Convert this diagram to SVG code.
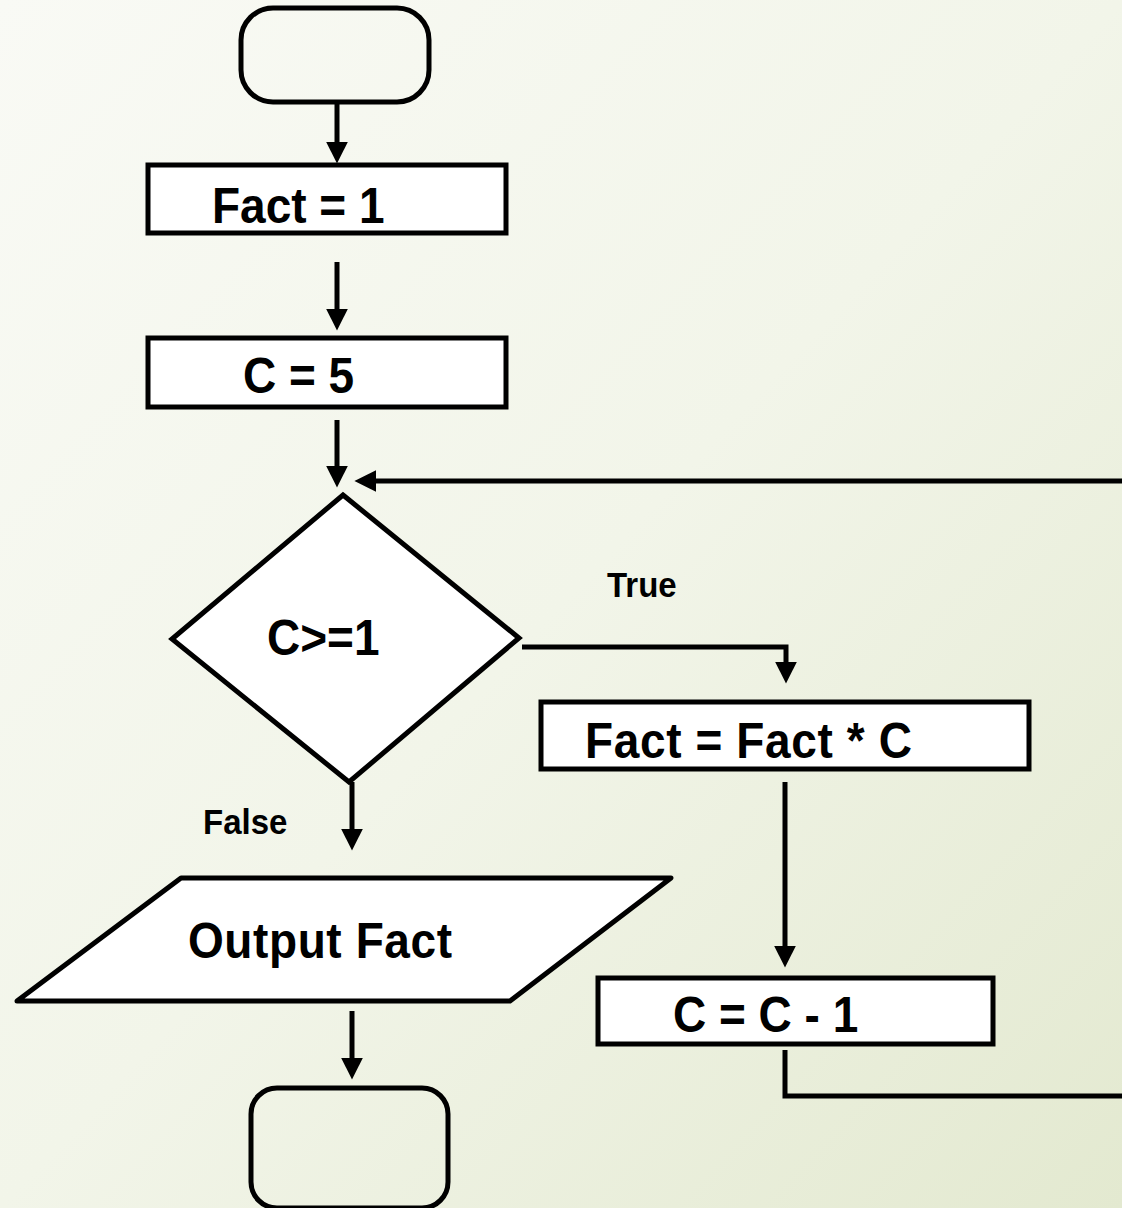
<svg xmlns="http://www.w3.org/2000/svg" width="1122" height="1208" viewBox="0 0 1122 1208">
  <defs>
    <linearGradient id="bg" x1="0" y1="0" x2="1" y2="1">
      <stop offset="0" stop-color="#f9faf5"/>
      <stop offset="0.5" stop-color="#f2f5e9"/>
      <stop offset="1" stop-color="#e3e9d0"/>
    </linearGradient>
    <marker id="head" markerUnits="userSpaceOnUse" markerWidth="22" markerHeight="22" viewBox="0 0 10 10" refX="2" refY="5" orient="auto">
      <path d="M0,0 L10,5 L0,10 z" fill="#000"/>
    </marker>
    <style>
      .term { fill: none; stroke: #000; stroke-width: 5; }
      .box { fill: #fff; stroke: #000; stroke-width: 5; }
      .lbl { font-family: "Liberation Sans", Arial, sans-serif; font-weight: bold; fill: #000; }
      .big { font-size: 46px; }
      .small { font-size: 33px; }
      .wire { fill: none; stroke: #000; stroke-width: 5; }
      .arrow { fill: none; stroke: #000; stroke-width: 5; marker-end: url(#head); }
    </style>
  </defs>

  <rect width="1122" height="1208" fill="url(#bg)"/>

  <!-- start terminator -->
  <g id="start">
    <rect class="term" x="241" y="8" width="188" height="94" rx="32" ry="32"/>
  </g>

  <g id="init-fact">
    <rect class="box" x="148" y="165" width="358" height="68"/>
    <text class="lbl big" transform="translate(212,223) scale(1,1.08)">Fact = 1</text>
  </g>

  <g id="init-c">
    <rect class="box" x="148" y="338" width="358" height="69"/>
    <text class="lbl big" transform="translate(243,393) scale(1,1.08)">C = 5</text>
  </g>

  <g id="decision">
    <polygon class="box" points="343,495 519,638 349,782 172,639" stroke-width="4"/>
    <text class="lbl big" transform="translate(267,655) scale(1,1.08)">C&gt;=1</text>
  </g>

  <g id="multiply">
    <rect class="box" x="541" y="702" width="488" height="67"/>
    <text class="lbl big" transform="translate(585,758) scale(1,1.08)" textLength="327">Fact = Fact * C</text>
  </g>

  <g id="decrement">
    <rect class="box" x="598" y="978" width="395" height="66"/>
    <text class="lbl big" transform="translate(673,1032) scale(1,1.08)">C = C - 1</text>
  </g>

  <g id="output">
    <polygon class="box" points="181,878 671,878 510,1001 17,1001" stroke-width="4" stroke-linejoin="round"/>
    <text class="lbl big" transform="translate(188,958) scale(1,1.08)" textLength="264">Output Fact</text>
  </g>

  <!-- end terminator -->
  <g id="end">
    <rect class="term" x="251" y="1088" width="197" height="120" rx="26" ry="26"/>
  </g>

  <g id="connectors">
    <line class="arrow" x1="337" y1="102" x2="337" y2="146"/>
    <line class="arrow" x1="337" y1="262" x2="337" y2="313"/>
    <line class="arrow" x1="337" y1="420" x2="337" y2="470"/>
    <line class="arrow" x1="1122" y1="481" x2="372" y2="481"/>
    <path class="arrow" d="M522,647 H786 V666"/>
    <line class="arrow" x1="785" y1="782" x2="785" y2="950"/>
    <path class="wire" d="M785,1050 V1096 H1122"/>
    <line class="arrow" x1="352" y1="782" x2="352" y2="833"/>
    <line class="arrow" x1="352" y1="1011" x2="352" y2="1062"/>
    <text class="lbl small" transform="translate(607,597) scale(1,1.05)">True</text>
    <text class="lbl small" transform="translate(203,834) scale(1,1.05)">False</text>
  </g>
</svg>
